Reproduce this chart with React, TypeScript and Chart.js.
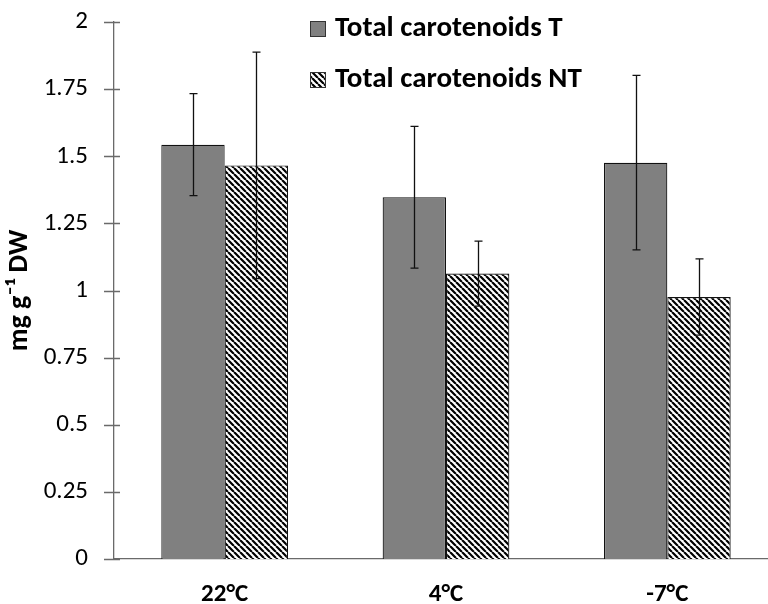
import React, { useEffect, useRef } from "react";
import { Chart, registerables } from "chart.js";

Chart.register(...registerables);

// ---- data ----
const categories = ["22°C", "4°C", "-7°C"];
const seriesLabels = ["Total carotenoids T", "Total carotenoids NT"];
const valuesT = [1.543, 1.347, 1.476];
const errorsT = [0.19, 0.264, 0.325];
const valuesNT = [1.466, 1.063, 0.976];
const errorsNT = [0.422, 0.121, 0.142];
const yTickLabels = ["0", "0.25", "0.5", "0.75", "1", "1.25", "1.5", "1.75", "2"];
const yMin = 0;
const yMax = 2;
const yStep = 0.25;
const yAxisTitle = "mg g\u207B\u00B9 DW";

const FONT = "Carlito, Calibri, Lato, sans-serif";
const AXIS_COLOR = "#6a6a6a";

function makeHatch(): CanvasPattern | string {
  const c = document.createElement("canvas");
  const s = 6;
  c.width = s;
  c.height = s;
  const g = c.getContext("2d");
  if (!g) return "#ffffff";
  g.fillStyle = "#ffffff";
  g.fillRect(0, 0, s, s);
  g.strokeStyle = "#000000";
  g.lineWidth = 2.2;
  g.beginPath();
  for (const k of [-s, 0, s]) {
    g.moveTo(k, 0);
    g.lineTo(k + s, s);
  }
  g.stroke();
  const p = g.createPattern(c, "repeat");
  return p || "#ffffff";
}

const errorSets = [errorsT, errorsNT];

const errorBarPlugin = {
  id: "errorBars",
  afterDatasetsDraw(chart: any) {
    const ctx = chart.ctx;
    const y = chart.scales.y;
    chart.data.datasets.forEach((ds: any, i: number) => {
      const meta = chart.getDatasetMeta(i);
      const errs = errorSets[i];
      meta.data.forEach((bar: any, j: number) => {
        const v = ds.data[j];
        const e = errs[j];
        const top = y.getPixelForValue(v + e);
        const bot = y.getPixelForValue(v - e);
        const x = Math.round(bar.x) + 0.5;
        ctx.save();
        ctx.strokeStyle = "#111111";
        ctx.lineWidth = 1.3;
        ctx.beginPath();
        ctx.moveTo(x, top);
        ctx.lineTo(x, bot);
        ctx.moveTo(x - 4, top);
        ctx.lineTo(x + 4, top);
        ctx.moveTo(x - 4, bot);
        ctx.lineTo(x + 4, bot);
        ctx.stroke();
        ctx.restore();
      });
    });
  },
};

const axisMarksPlugin = {
  id: "axisMarks",
  afterDraw(chart: any) {
    const ctx = chart.ctx;
    const y = chart.scales.y;
    const area = chart.chartArea;
    ctx.save();
    ctx.strokeStyle = AXIS_COLOR;
    ctx.lineWidth = 1.3;
    ctx.beginPath();
    y.ticks.forEach((t: any) => {
      const py = Math.round(y.getPixelForValue(t.value)) + 0.5;
      ctx.moveTo(area.left - 10, py);
      ctx.lineTo(area.left + 6, py);
    });
    const by = Math.round(area.bottom) + 0.5;
    ctx.moveTo(area.left - 10, by);
    ctx.lineTo(area.left, by);
    ctx.stroke();
    ctx.restore();
  },
};

const legendPlugin = {
  id: "customLegend",
  afterDraw(chart: any) {
    const ctx = chart.ctx;
    const rows = [21, 72];
    const boxX = 310;
    const size = 16;
    ctx.save();
    chart.data.datasets.forEach((ds: any, i: number) => {
      const top = rows[i];
      ctx.fillStyle = ds.backgroundColor;
      ctx.fillRect(boxX, top, size, size);
      ctx.strokeStyle = "#333333";
      ctx.lineWidth = 1;
      ctx.strokeRect(boxX + 0.5, top + 0.5, size - 1, size - 1);
      ctx.fillStyle = "#000000";
      ctx.font = `bold 29px ${FONT}`;
      ctx.textBaseline = "middle";
      ctx.textAlign = "left";
      ctx.fillText(ds.label, 335, top + size / 2);
    });
    ctx.restore();
  },
};

export default function App() {
  const ref = useRef<HTMLCanvasElement | null>(null);

  useEffect(() => {
    if (!ref.current) return;
    const hatch = makeHatch();
    const chart = new Chart(ref.current, {
      type: "bar",
      data: {
        labels: categories,
        datasets: [
          {
            label: seriesLabels[0],
            data: valuesT,
            backgroundColor: "#808080",
            borderColor: "#111111",
            borderWidth: 1.2,
            categoryPercentage: 0.5725,
            barPercentage: 1,
          },
          {
            label: seriesLabels[1],
            data: valuesNT,
            backgroundColor: hatch as any,
            borderColor: "#111111",
            borderWidth: 1.2,
            categoryPercentage: 0.5725,
            barPercentage: 1,
          },
        ],
      },
      options: {
        animation: false,
        responsive: false,
        devicePixelRatio: 1,
        layout: { padding: { left: 0, top: 22, right: 2, bottom: 0 } },
        plugins: {
          legend: { display: false },
          tooltip: { enabled: false },
        },
        scales: {
          x: {
            grid: { display: false, drawTicks: false },
            border: { display: true, color: AXIS_COLOR, width: 1.3 },
            ticks: {
              color: "#000000",
              font: { family: FONT, size: 25, weight: "bold" },
              padding: 21,
            },
            afterFit: (s: any) => {
              s.height = 45;
              s.paddingLeft = 0;
              s.paddingRight = 0;
            },
          },
          y: {
            min: yMin,
            max: yMax,
            grid: { display: false, drawTicks: false },
            border: { display: true, color: AXIS_COLOR, width: 1.3 },
            ticks: {
              stepSize: yStep,
              color: "#000000",
              font: { family: FONT, size: 25 },
              padding: 26,
              callback: (_v: any, i: number) => yTickLabels[i],
            },
            title: {
              display: true,
              text: yAxisTitle,
              color: "#000000",
              font: { family: FONT, size: 28, weight: "bold" },
              padding: { top: 3, bottom: 0 },
            },
            afterFit: (s: any) => {
              s.width = 114;
              s.paddingTop = 0;
              s.paddingBottom = 0;
            },
          },
        },
      },
      plugins: [errorBarPlugin, axisMarksPlugin, legendPlugin],
    });
    return () => chart.destroy();
  }, []);

  return (
    <div
      style={{
        position: "absolute",
        left: 0,
        top: 0,
        width: 768,
        height: 604,
        overflow: "hidden",
        background: "#ffffff",
      }}
    >
      <canvas ref={ref} width={780} height={604} style={{ display: "block" }} />
    </div>
  );
}
